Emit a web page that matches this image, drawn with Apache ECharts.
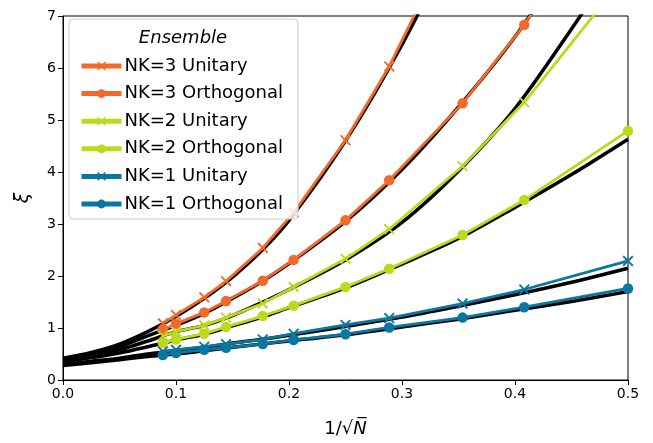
<!DOCTYPE html>
<html>
<head>
<meta charset="utf-8">
<script src="https://cdn.jsdelivr.net/npm/echarts@6/dist/echarts.min.js"></script>
<style>html,body{margin:0;padding:0;background:#fff}#c{width:653px;height:443px}</style>
</head>
<body>
<div id="c"></div>
<script>
// data points: x = 1/sqrt(N)
var xN = [0.0884, 0.1, 0.125, 0.1443, 0.1768, 0.2041, 0.25, 0.2887, 0.3536, 0.4082, 0.5];
var nk3U = [1.09, 1.25, 1.59, 1.90, 2.54, 3.22, 4.61, 6.03, 8.9, null, null];
var nk3O = [0.96, 1.08, 1.30, 1.52, 1.91, 2.31, 3.07, 3.84, 5.32, 6.83, 9.8];
var nk2U = [0.85, 0.93, 1.05, 1.20, 1.47, 1.79, 2.33, 2.90, 4.11, 5.34, 7.84];
var nk2O = [0.71, 0.78, 0.89, 1.02, 1.23, 1.43, 1.79, 2.14, 2.79, 3.46, 4.79];
var nk1U = [0.55, 0.58, 0.64, 0.69, 0.78, 0.89, 1.06, 1.19, 1.47, 1.74, 2.29];
var nk1O = [0.48, 0.52, 0.58, 0.62, 0.69, 0.77, 0.88, 1.01, 1.20, 1.40, 1.76];

// fit curves (black), read at these x
var fitX = [0, 0.025, 0.05, 0.075, 0.1, 0.125, 0.15, 0.175, 0.2, 0.25, 0.3, 0.35, 0.4, 0.45, 0.5];
var fit3U = [0.42, 0.53, 0.69, 0.93, 1.22, 1.57, 1.98, 2.47, 3.07, 4.60, 6.45, 8.6, null, null, null];
var fit3O = [0.40, 0.50, 0.64, 0.85, 1.05, 1.28, 1.57, 1.88, 2.24, 3.05, 4.05, 5.25, 6.6, 8.2, null];
var fit2U = [0.38, 0.46, 0.58, 0.75, 0.93, 1.05, 1.24, 1.48, 1.74, 2.31, 3.03, 4.02, 5.22, 6.75, 8.4];
var fit2O = [0.35, 0.43, 0.52, 0.64, 0.77, 0.88, 1.04, 1.20, 1.39, 1.77, 2.23, 2.72, 3.32, 3.95, 4.63];
var fit1U = [0.30, 0.36, 0.42, 0.50, 0.57, 0.63, 0.71, 0.78, 0.86, 1.03, 1.21, 1.42, 1.64, 1.88, 2.15];
var fit1O = [0.28, 0.33, 0.39, 0.45, 0.50, 0.56, 0.63, 0.69, 0.75, 0.87, 1.02, 1.17, 1.34, 1.51, 1.70];

var names = ['NK=3 Unitary', 'NK=3 Orthogonal', 'NK=2 Unitary', 'NK=2 Orthogonal', 'NK=1 Unitary', 'NK=1 Orthogonal'];
var xTicks = [0, 0.1, 0.2, 0.3, 0.4, 0.5];

var ORANGE = '#f26a2b', GREEN = '#bcd91b', BLUE = '#0a77a0';
var XSYM = 'path://M0,1.2L1.2,0L5,3.8L8.8,0L10,1.2L6.2,5L10,8.8L8.8,10L5,6.2L1.2,10L0,8.8L3.8,5Z';
var FONT = 'DejaVu Sans';

function pairs(xs, ys) {
  var out = [];
  for (var i = 0; i < xs.length; i++) if (ys[i] !== null) out.push([xs[i], ys[i]]);
  return out;
}
function fitSeries(ys) {
  return {
    type: 'line', data: pairs(fitX, ys), showSymbol: false, symbol: 'none',
    smooth: 0.3, lineStyle: { color: '#000', width: 3.5 }, z: 2, silent: true, clip: true
  };
}
function dataSeries(name, ys, color, unitary) {
  return {
    name: name, type: 'line', data: pairs(xN, ys), clip: true, z: 3,
    symbol: unitary ? XSYM : 'circle', symbolSize: unitary ? 11 : 10.5,
    lineStyle: { color: color, width: 2.8 },
    itemStyle: { color: color },
    emphasis: { disabled: true }
  };
}

var chart = echarts.init(document.getElementById('c'), null, { renderer: 'canvas' });
chart.setOption({
  animation: false,
  backgroundColor: '#fff',
  textStyle: { fontFamily: FONT },
  grid: { left: 63, right: 25, top: 16, bottom: 61, show: true, borderColor: '#000', borderWidth: 1, backgroundColor: 'transparent' },
  xAxis: {
    type: 'value', min: 0, max: 0.5, interval: 0.1,
    name: '1/\u221A{n|N\u0305}', nameLocation: 'middle', nameGap: 40,
    nameTextStyle: { fontSize: 18, color: '#000', fontFamily: FONT, rich: { n: { fontSize: 18, fontStyle: 'italic', color: '#000', fontFamily: FONT } } },
    axisLine: { show: true, onZero: false, lineStyle: { color: '#000', width: 1 } },
    axisTick: { show: true, length: 5, lineStyle: { color: '#000' } },
    axisLabel: { color: '#000', fontSize: 14, fontFamily: FONT, margin: 7, formatter: function (v) { return v.toFixed(1); } },
    splitLine: { show: false }
  },
  yAxis: {
    type: 'value', min: 0, max: 7, interval: 1,
    name: '\u03BE', nameLocation: 'middle', nameGap: 30,
    nameTextStyle: { fontSize: 19, fontStyle: 'italic', color: '#000', fontFamily: FONT },
    axisLine: { show: true, onZero: false, lineStyle: { color: '#000', width: 1 } },
    axisTick: { show: true, length: 5, lineStyle: { color: '#000' } },
    axisLabel: { color: '#000', fontSize: 14, fontFamily: FONT, margin: 7 },
    splitLine: { show: false }
  },
  legend: {
    data: names, orient: 'vertical', left: 69, top: 19,
    padding: [38, 15, 6, 10], itemGap: 9.6, itemWidth: 40, itemHeight: 11,
    selectedMode: false,
    backgroundColor: 'rgba(255,255,255,0.8)', borderColor: '#cccccc', borderWidth: 1, borderRadius: 4,
    lineStyle: { width: 5 },
    textStyle: { color: '#000', fontSize: 18, fontFamily: FONT, padding: [0, 0, 0, -2] }
  },
  graphic: [{
    type: 'text', x: 183, y: 38, z: 100,
    style: { text: 'Ensemble', fill: '#000', fontSize: 18, fontStyle: 'italic', fontFamily: FONT, align: 'center', verticalAlign: 'middle' }
  }],
  series: [
    fitSeries(fit3U), fitSeries(fit3O), fitSeries(fit2U), fitSeries(fit2O), fitSeries(fit1U), fitSeries(fit1O),
    dataSeries(names[0], nk3U, ORANGE, true),
    dataSeries(names[1], nk3O, ORANGE, false),
    dataSeries(names[2], nk2U, GREEN, true),
    dataSeries(names[3], nk2O, GREEN, false),
    dataSeries(names[4], nk1U, BLUE, true),
    dataSeries(names[5], nk1O, BLUE, false)
  ]
});
</script>
</body>
</html>
